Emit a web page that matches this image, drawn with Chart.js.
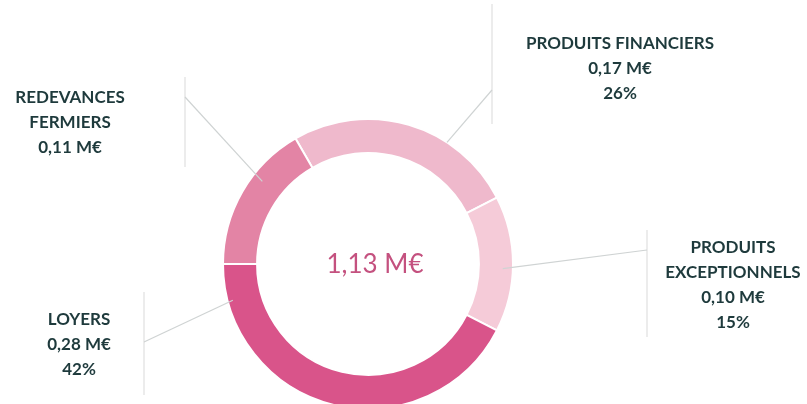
<!DOCTYPE html>
<html lang="fr">
<head>
<meta charset="utf-8">
<title>Répartition des produits</title>
<script src="https://cdn.jsdelivr.net/npm/chart.js@4.4.1/dist/chart.umd.min.js"></script>
<style>
  html, body { margin: 0; padding: 0; background: #ffffff; overflow: hidden; }
  .chart-box { position: relative; width: 807px; height: 440px; }
</style>
</head>
<body>
<div class="chart-box"><canvas id="donut"></canvas></div>
<script>
// Data (values in M€)
const categories = ['PRODUITS FINANCIERS', 'PRODUITS EXCEPTIONNELS', 'LOYERS', 'REDEVANCES FERMIERS'];
const labelLines = [['PRODUITS FINANCIERS'], ['PRODUITS', 'EXCEPTIONNELS'], ['LOYERS'], ['REDEVANCES', 'FERMIERS']];
const values = [0.17, 0.10, 0.28, 0.11];
const showPercent = [true, true, true, false];
const totalAmount = 1.13;
const sliceColors = ['#efb9cc', '#f5cbd8', '#d9548a', '#e384a5'];

// French number format: 0,17 M€
const fmtMoney = v => v.toFixed(2).replace('.', ',') + ' M€';

// Where each callout sits: text anchor, grey bar, elbow and the point on the ring (angle clockwise from top)
const calloutLayout = [
  { tx: 620, ty: 44, barX: 492, barY: [4, 124], elbowY: 90, angle: 33, rFrac: 1.0 },
  { tx: 733, ty: 248, barX: 647, barY: [230, 337], elbowY: 250, angle: 92, rFrac: 0.93 },
  { tx: 79, ty: 320, barX: 144, barY: [292, 395], elbowY: 342, angle: 255, rFrac: 0.965 },
  { tx: 70, ty: 98, barX: 185, barY: [77, 167], elbowY: 97, angle: 308, rFrac: 0.925 }
];

const TEXT_COLOR = '#1e3a3c';
const LINE_GAP = 25;

// Draws the leader lines, category labels and the total in the hole
const calloutPlugin = {
  id: 'callouts',
  afterDatasetsDraw(chart) {
    const ctx = chart.ctx;
    const arcs = chart.getDatasetMeta(0).data;
    const sum = values.reduce((a, b) => a + b, 0);
    ctx.save();

    arcs.forEach((arc, i) => {
      const lay = calloutLayout[i];
      const a = (lay.angle - 90) * Math.PI / 180;
      const r = arc.outerRadius * lay.rFrac;
      const px = arc.x + r * Math.cos(a);
      const py = arc.y + r * Math.sin(a);

      // vertical bar next to the label
      ctx.strokeStyle = '#e6e6e6';
      ctx.lineWidth = 1.5;
      ctx.beginPath();
      ctx.moveTo(lay.barX, lay.barY[0]);
      ctx.lineTo(lay.barX, lay.barY[1]);
      ctx.stroke();

      // leader line from the bar to the ring
      ctx.strokeStyle = '#cfd3d3';
      ctx.lineWidth = 1.2;
      ctx.beginPath();
      ctx.moveTo(lay.barX, lay.elbowY);
      ctx.lineTo(px, py);
      ctx.stroke();

      // text block
      const lines = labelLines[i].slice();
      lines.push(fmtMoney(values[i]));
      if (showPercent[i]) lines.push(Math.round(values[i] / sum * 100) + '%');
      ctx.fillStyle = TEXT_COLOR;
      ctx.font = 'bold 17px Lato';
      ctx.textAlign = 'center';
      ctx.textBaseline = 'middle';
      lines.forEach((t, k) => ctx.fillText(t, lay.tx, lay.ty + k * LINE_GAP));
    });

    // total in the centre
    const c = arcs[0];
    ctx.fillStyle = '#c4517f';
    ctx.font = '26px Lato';
    ctx.textAlign = 'center';
    ctx.textBaseline = 'middle';
    ctx.fillText(fmtMoney(totalAmount), c.x + 7, c.y + 1);
    ctx.restore();
  }
};

new Chart(document.getElementById('donut'), {
  type: 'doughnut',
  data: {
    labels: categories,
    datasets: [{
      data: values,
      backgroundColor: sliceColors,
      borderColor: '#ffffff',
      borderWidth: 2,
      hoverOffset: 0,
      offset: 0
    }]
  },
  options: {
    responsive: true,
    maintainAspectRatio: false,
    animation: false,
    events: [],
    rotation: -30,
    radius: 145,
    cutout: '76.5%',
    layout: { padding: { left: 214, right: 285, top: 110, bottom: 22 } },
    plugins: {
      legend: { display: false },
      tooltip: { enabled: false }
    }
  },
  plugins: [calloutPlugin]
});
</script>
</body>
</html>
